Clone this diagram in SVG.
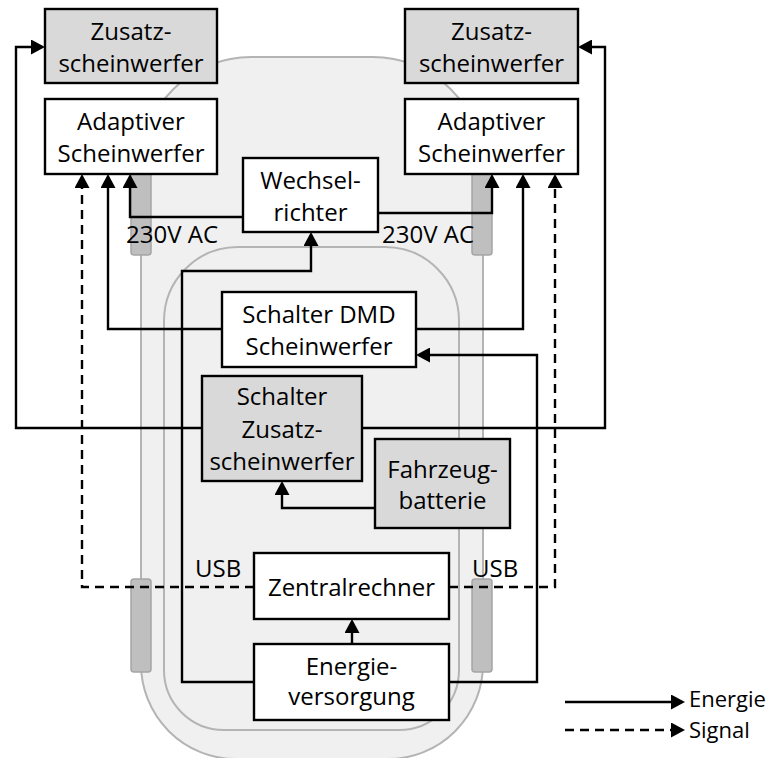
<svg xmlns="http://www.w3.org/2000/svg" width="774" height="758" viewBox="0 0 774 758">
  <style>
    .body { fill: #f0f0f0; stroke: #b4b4b4; stroke-width: 2; }
    .wheel { fill: #bfbfbf; stroke: #a5a5a5; stroke-width: 1.5; }
    .box { fill: #ffffff; stroke: #000000; stroke-width: 2.4; }
    .box.grey { fill: #d9d9d9; }
    .wire { fill: none; stroke: #000000; stroke-width: 2.4; marker-end: url(#arrow); }
    .sig { stroke-dasharray: 9 6; }
    text { font-family: "Open Sans", "Liberation Sans", sans-serif; font-size: 24px; fill: #000000; }
    .c { text-anchor: middle; }
    .legend-text { font-size: 22px; }
  </style>
  <defs>
    <marker id="arrow" viewBox="0 0 14 15" markerWidth="14" markerHeight="15" refX="11" refY="7.5" orient="auto" markerUnits="userSpaceOnUse">
      <path d="M0,0 L14,7.5 L0,15 Z" fill="#000000"/>
    </marker>
  </defs>

  <!-- vehicle outline -->
  <g id="vehicle">
    <path class="body" d="M141,167 A110,110 0 0 1 251,57 H373 A110,110 0 0 1 483,167 V664 A95,95 0 0 1 388,759 H236 A95,95 0 0 1 141,664 Z"/>
    <path class="body" d="M164,321 A74,74 0 0 1 238,247 H385 A74,74 0 0 1 459,321 V670 A60,60 0 0 1 399,730 H224 A60,60 0 0 1 164,670 Z"/>
    <rect class="wheel" x="131" y="160" width="20" height="95" rx="3"/>
    <rect class="wheel" x="472" y="160" width="20" height="95" rx="3"/>
    <rect class="wheel" x="131" y="579" width="20" height="93" rx="3"/>
    <rect class="wheel" x="472" y="579" width="20" height="93" rx="3"/>
  </g>

  <!-- connectors -->
  <g id="connectors">
    <path class="wire" d="M202,428 H16 V47 H42"/>
    <path class="wire" d="M362,428 H605 V47 H581"/>
    <path class="wire" d="M222,329 H108 V177"/>
    <path class="wire" d="M416,329 H523 V177"/>
    <path class="wire sig" d="M254,587 H82 V177"/>
    <path class="wire sig" d="M449,587 H555 V177"/>
    <path class="wire" d="M243,217 H130 V177"/>
    <path class="wire" d="M378,213 H492 V177"/>
    <path class="wire" d="M254,682 H182 V271 H311 V235"/>
    <path class="wire" d="M449,682 H537 V355 H419"/>
    <path class="wire" d="M352,644 V622"/>
    <path class="wire" d="M375,508 H282 V484"/>
  </g>

  <!-- port labels -->
  <g id="labels">
    <text x="126" y="243">230V AC</text>
    <text x="382" y="243">230V AC</text>
    <text x="195" y="577">USB</text>
    <text x="472" y="577">USB</text>
  </g>

  <g id="zusatz-links">
    <rect class="box grey" x="45" y="9" width="172" height="74"/>
    <text class="c" x="131" y="40">Zusatz-</text>
    <text class="c" x="131" y="72">scheinwerfer</text>
  </g>
  <g id="zusatz-rechts">
    <rect class="box grey" x="405" y="9" width="173" height="74"/>
    <text class="c" x="491.5" y="40">Zusatz-</text>
    <text class="c" x="491.5" y="72">scheinwerfer</text>
  </g>
  <g id="adaptiv-links">
    <rect class="box" x="45" y="99" width="172" height="75"/>
    <text class="c" x="131" y="130">Adaptiver</text>
    <text class="c" x="131" y="162">Scheinwerfer</text>
  </g>
  <g id="adaptiv-rechts">
    <rect class="box" x="405" y="99" width="173" height="75"/>
    <text class="c" x="491.5" y="130">Adaptiver</text>
    <text class="c" x="491.5" y="162">Scheinwerfer</text>
  </g>
  <g id="wechselrichter">
    <rect class="box" x="243" y="158" width="135" height="74"/>
    <text class="c" x="310.5" y="189">Wechsel-</text>
    <text class="c" x="310.5" y="221">richter</text>
  </g>
  <g id="schalter-dmd">
    <rect class="box" x="222" y="292" width="194" height="75"/>
    <text class="c" x="319" y="323">Schalter DMD</text>
    <text class="c" x="319" y="355">Scheinwerfer</text>
  </g>
  <g id="schalter-zusatz">
    <rect class="box grey" x="202" y="376" width="160" height="105"/>
    <text class="c" x="282" y="405">Schalter</text>
    <text class="c" x="282" y="438">Zusatz-</text>
    <text class="c" x="282" y="470">scheinwerfer</text>
  </g>
  <g id="fahrzeugbatterie">
    <rect class="box grey" x="375" y="439" width="135" height="89"/>
    <text class="c" x="442.5" y="478">Fahrzeug-</text>
    <text class="c" x="442.5" y="509">batterie</text>
  </g>
  <g id="zentralrechner">
    <rect class="box" x="254" y="553" width="195" height="66"/>
    <text class="c" x="351.5" y="596">Zentralrechner</text>
  </g>
  <g id="energieversorgung">
    <rect class="box" x="254" y="644" width="195" height="76"/>
    <text class="c" x="351.5" y="675">Energie-</text>
    <text class="c" x="351.5" y="705">versorgung</text>
  </g>

  <!-- legend -->
  <g id="legende">
    <path class="wire" d="M565,702 H682"/>
    <path class="wire sig" d="M565,730 H682"/>
    <text class="legend-text" x="689" y="707">Energie</text>
    <text class="legend-text" x="689" y="738">Signal</text>
  </g>
</svg>
